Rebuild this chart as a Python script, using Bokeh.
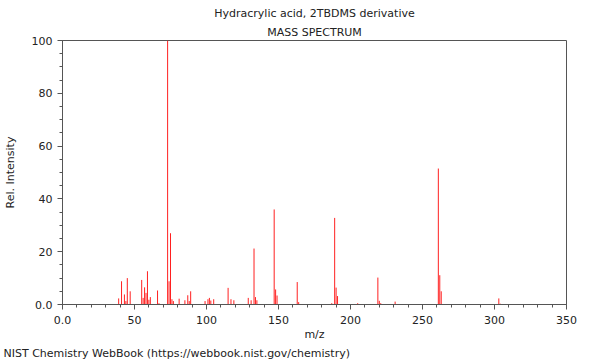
from bokeh.plotting import figure
from bokeh.models import FixedTicker, Title, Range1d
from bokeh.embed import file_html
from bokeh.resources import INLINE

# ---- data ----
mz = [39, 41, 43, 44, 45, 47, 55, 56, 57, 58, 59, 60, 61, 66, 67,
      73, 74, 75, 76, 77, 81, 85, 87, 88, 89, 99, 101, 102, 103, 105,
      115, 117, 119, 129, 131, 133, 134, 135, 147, 148, 149, 163, 164,
      187, 189, 190, 191, 205, 219, 220, 221, 231, 261, 262, 263, 303, 304]
intensity = [2.3, 8.8, 3.8, 1.3, 10.0, 5.0, 9.3, 2.5, 6.5, 4.4, 12.6, 1.8, 2.8, 5.3, 0.5,
             100.0, 8.8, 27.0, 2.0, 1.3, 2.2, 1.6, 3.5, 1.3, 5.0, 1.3, 2.0, 2.5, 1.5, 2.0,
             6.3, 2.0, 1.6, 2.5, 1.6, 21.2, 2.8, 1.6, 36.0, 5.7, 3.4, 8.5, 0.9,
             0.5, 32.8, 6.4, 3.2, 0.5, 10.2, 1.4, 0.5, 1.1, 51.5, 11.1, 5.0, 2.3, 0.3]
base = [0] * len(mz)

x_ticks = [0, 50, 100, 150, 200, 250, 300, 350]
x_labels = ["0.0", "50", "100", "150", "200", "250", "300", "350"]
x_minor = list(range(0, 351, 10))
y_ticks = [0, 20, 40, 60, 80, 100]
y_labels = ["0.0", "20", "40", "60", "80", "100"]
y_minor = list(range(0, 101, 5))

FONT = "DejaVu Sans"
FS = "11px"
TXT = "#222222"
LINE = "#555555"

p = figure(width=600, height=360,
           min_border_left=62, min_border_right=34,
           min_border_top=40, min_border_bottom=56,
           x_range=Range1d(0, 350), y_range=Range1d(0, 100),
           output_backend="svg", toolbar_location=None,
           title="Hydracrylic acid, 2TBDMS derivative")

p.segment(x0=mz, y0=base, x1=mz, y1=intensity, line_color="#ff2020", line_width=1)

p.title.align = "center"
p.title.text_font = FONT
p.title.text_font_size = FS
p.title.text_font_style = "normal"
p.title.text_color = TXT
p.title.standoff = 4

t2 = Title(text="MASS SPECTRUM", align="center",
           text_font=FONT, text_font_size=FS, text_font_style="normal",
           text_color=TXT, standoff=4)
p.add_layout(t2, "above")

p.xgrid.visible = False
p.ygrid.visible = False
p.outline_line_color = LINE
p.outline_line_width = 1
p.background_fill_color = "white"
p.border_fill_color = "white"

for ax, ticks, minor, labels in ((p.xaxis[0], x_ticks, x_minor, x_labels),
                                 (p.yaxis[0], y_ticks, y_minor, y_labels)):
    ax.ticker = FixedTicker(ticks=ticks, minor_ticks=minor)
    ax.major_label_overrides = {t: l for t, l in zip(ticks, labels)}
    ax.major_tick_in = 0
    ax.major_tick_out = 5
    ax.minor_tick_in = 0
    ax.minor_tick_out = 3
    ax.axis_line_color = LINE
    ax.major_tick_line_color = LINE
    ax.minor_tick_line_color = LINE
    ax.major_label_text_font = FONT
    ax.major_label_text_font_size = FS
    ax.major_label_text_color = TXT
    ax.axis_label_text_font = FONT
    ax.axis_label_text_font_size = FS
    ax.axis_label_text_font_style = "normal"
    ax.axis_label_text_color = TXT

p.xaxis.major_label_standoff = 6
p.yaxis.major_label_standoff = 5
p.xaxis.axis_label = "m/z"
p.xaxis.axis_label_standoff = 1
p.yaxis.axis_label = "Rel. Intensity"
p.yaxis.axis_label_standoff = 12
p.yaxis.major_label_orientation = "horizontal"

foot = Title(text="NIST Chemistry WebBook (https://webbook.nist.gov/chemistry)",
             align="left", offset=-59,
             text_font=FONT, text_font_size=FS, text_font_style="normal",
             text_color=TXT, standoff=2)
p.add_layout(foot, "below")

open("out.html", "w").write(file_html(p, INLINE))
